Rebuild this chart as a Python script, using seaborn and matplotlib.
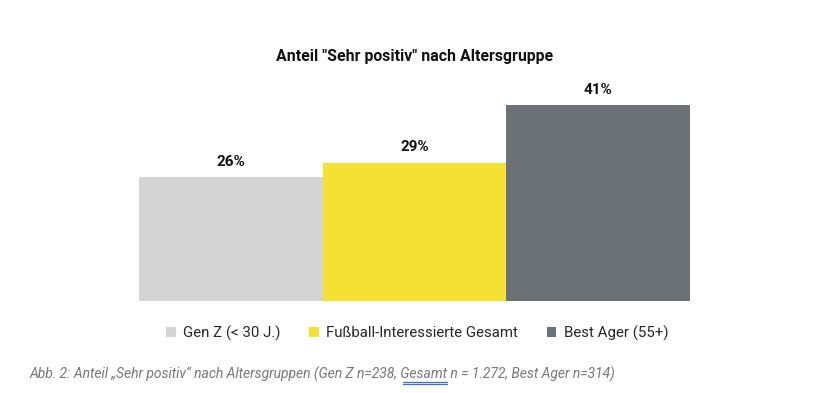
import matplotlib
matplotlib.use("Agg")
import matplotlib.pyplot as plt
import seaborn as sns
import pandas as pd
from matplotlib.patches import Patch
from matplotlib.lines import Line2D

categories = ["Gen Z (< 30 J.)", "Fußball-Interessierte Gesamt", "Best Ager (55+)"]
values = [26, 29, 41]
labels = ["26%", "29%", "41%"]
colors = ["#d4d4d4", "#f5e133", "#6b7174"]

sns.set_theme(style="white")
plt.rcParams["font.family"] = ["Roboto", "DejaVu Sans"]

df = pd.DataFrame({"cat": categories, "val": values})

fig = plt.figure(figsize=(8.14, 3.93), dpi=100)
ax = fig.add_axes([139/814, 92/393, (690-139)/814, (301-86.4)/393])

sns.barplot(data=df, x="cat", y="val", hue="cat", palette=colors, width=1.0,
            legend=False, ax=ax, saturation=1, linewidth=0, edgecolor="none")
ax.set_ylim(0, 45)
ax.set_xlim(-0.5, 2.5)
ax.set_xlabel("")
ax.set_ylabel("")
ax.set_xticks([])
ax.set_yticks([])
for s in ax.spines.values():
    s.set_visible(False)

for i, (v, lab) in enumerate(zip(values, labels)):
    ax.annotate(lab, (i, v), xytext=(0, 6), textcoords="offset points",
                ha="center", va="bottom", fontsize=11, fontweight="bold", color="#111111")

fig.text(415/814, 1 - 56/393, 'Anteil "Sehr positiv" nach Altersgruppe', ha="center", va="center",
         fontsize=11.4, fontweight="bold", color="#111111")

handles = [Patch(facecolor=c, edgecolor="none") for c in colors]
fig.legend(handles, categories, loc="center", bbox_to_anchor=(417/814, 1 - 333/393), ncol=3,
           frameon=False, fontsize=10.8, handlelength=0.65, handleheight=0.65, handletextpad=0.5,
           columnspacing=1.9)

prefix = "Abb. 2: Anteil \u201eSehr positiv\u201c nach Altersgruppen (Gen Z n=238, "
word = "Gesamt"
rest = " n = 1.272, Best Ager n=314)"
cx, cy = 30/814, 1 - 374/393
cap = fig.text(cx, cy, prefix + word + rest, ha="left", va="center",
               fontsize=10, style="italic", color="#777777")

# spell-check style underline under "Gesamt"
r = fig.canvas.get_renderer()
t1 = fig.text(cx, cy, prefix, fontsize=10, style="italic", alpha=0)
t2 = fig.text(cx, cy, prefix + word, fontsize=10, style="italic", alpha=0)
x0 = t1.get_window_extent(r).x1 / fig.bbox.width
x1 = t2.get_window_extent(r).x1 / fig.bbox.width
t1.remove(); t2.remove()
for dy in (7.5, 9.5):
    y = 1 - (374 + dy) / 393
    fig.add_artist(Line2D([x0 + 0.002, x1 - 0.001], [y, y], color="#3a6fd8", lw=0.9,
                          transform=fig.transFigure))

fig.savefig("out.png", dpi=100, facecolor="white")
